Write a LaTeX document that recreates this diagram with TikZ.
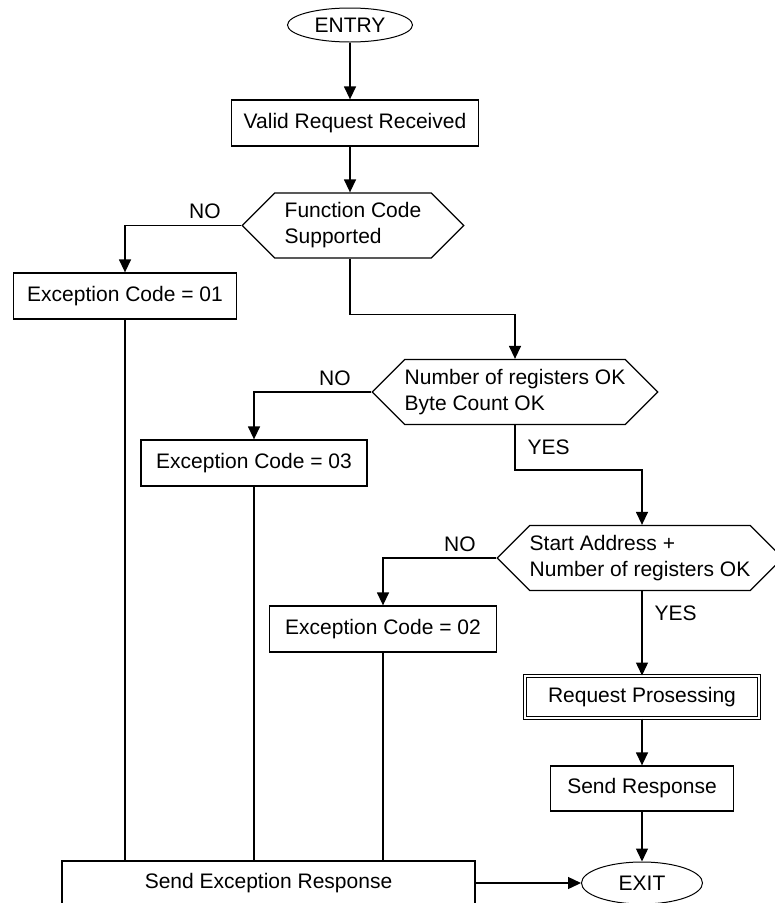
\documentclass[tikz,border=0pt]{standalone}
\usepackage{fontspec}
\setmainfont{Liberation Sans}
\usetikzlibrary{shapes.geometric,% ellipses for entry and exit
shapes.symbols,%                  signal shape for the hexagons
arrows.meta}
\tikzset{every node/.style={font=\fontsize{21}{26}\selectfont}}
\tikzset{terminal/.style={draw, ellipse, line width=1pt, inner sep=0pt},
  process/.style={draw, rectangle, line width=1.3pt, minimum height=46pt, inner sep=0pt},
  decision/.style={draw, shape=signal, signal to=west and east, signal pointer angle=90,
    line width=1.3pt, align=left, minimum height=65pt, inner xsep=0pt, inner ysep=0pt},
  flow/.style={line width=1.4pt, -{Triangle[length=13pt,width=12pt]}},
  link/.style={line width=1.4pt},
  nolabel/.style={anchor=south east, inner sep=0pt, xshift=-20pt, yshift=6pt},
  yeslabel/.style={anchor=north west, inner sep=0pt, xshift=12pt, yshift=-14pt}}

\begin{document}
\begin{tikzpicture}[x=1pt,y=-1pt]
  \useasboundingbox[fill=white] (0,0) rectangle (775,903);
  % main column
  \node[terminal, minimum width=125pt, minimum height=34pt] (entry) at (350,25) {ENTRY};
  \node[process, minimum width=247pt] (valid) at (355,123) {Valid Request Received};
  \node[decision, inner xsep=10pt] (fc) at (353,225.5) {Function Code\\Supported};
  \node[process, minimum width=223pt] (exc01) at (125,296) {Exception Code = 01};
  \node[decision] (nr) at (515,392) {Number of registers OK\\Byte Count OK};
  \node[process, minimum width=226pt] (exc03) at (254,463) {Exception Code = 03};
  \node[decision] (sa) at (640,558) {Start Address +\\Number of registers OK};
  \node[process, minimum width=227pt] (exc02) at (383,629) {Exception Code = 02};
  \node[process, minimum width=234pt, minimum height=42pt, line width=1pt,
    double, double distance=2pt] (rp) at (642,697) {Request Prosessing};
  \node[process, minimum width=183pt, minimum height=45pt] (sr) at (642,788.5) {Send Response};
  \node[process, minimum width=413pt, minimum height=44pt] (ser) at (268.5,883) {Send Exception Response};
  \node[terminal, minimum width=121pt, minimum height=42pt] (exit) at (642,883) {EXIT};

  \draw[flow] (entry.south) -- (entry.south |- valid.north);
  \draw[flow] (valid.south -| entry.south) -- (entry.south |- fc.north);
  \draw[flow] (fc.west) node[nolabel]{NO} -| (exc01.north);
  \draw[flow] (fc.south -| entry.south) -- ++(0,56) -| (nr.north);
  \draw[flow] (nr.west) node[nolabel]{NO} -| (exc03.north);
  \draw[flow] (nr.south) node[yeslabel]{YES} -- ++(0,45) -| (sa.north -| rp.north);
  \draw[flow] (sa.west) node[nolabel]{NO} -| (exc02.north);
  \draw[flow] (sa.south -| rp.north) node[yeslabel]{YES} -- (rp.north);
  \draw[flow] (rp.south) -- (sr.north);
  \draw[flow] (sr.south) -- (exit.north);
  \foreach \e in {exc01,exc03,exc02} \draw[link] (\e.south) -- (\e.south |- ser.north);
  \draw[flow] (ser.east) -- (exit.west);
\end{tikzpicture}
\end{document}
